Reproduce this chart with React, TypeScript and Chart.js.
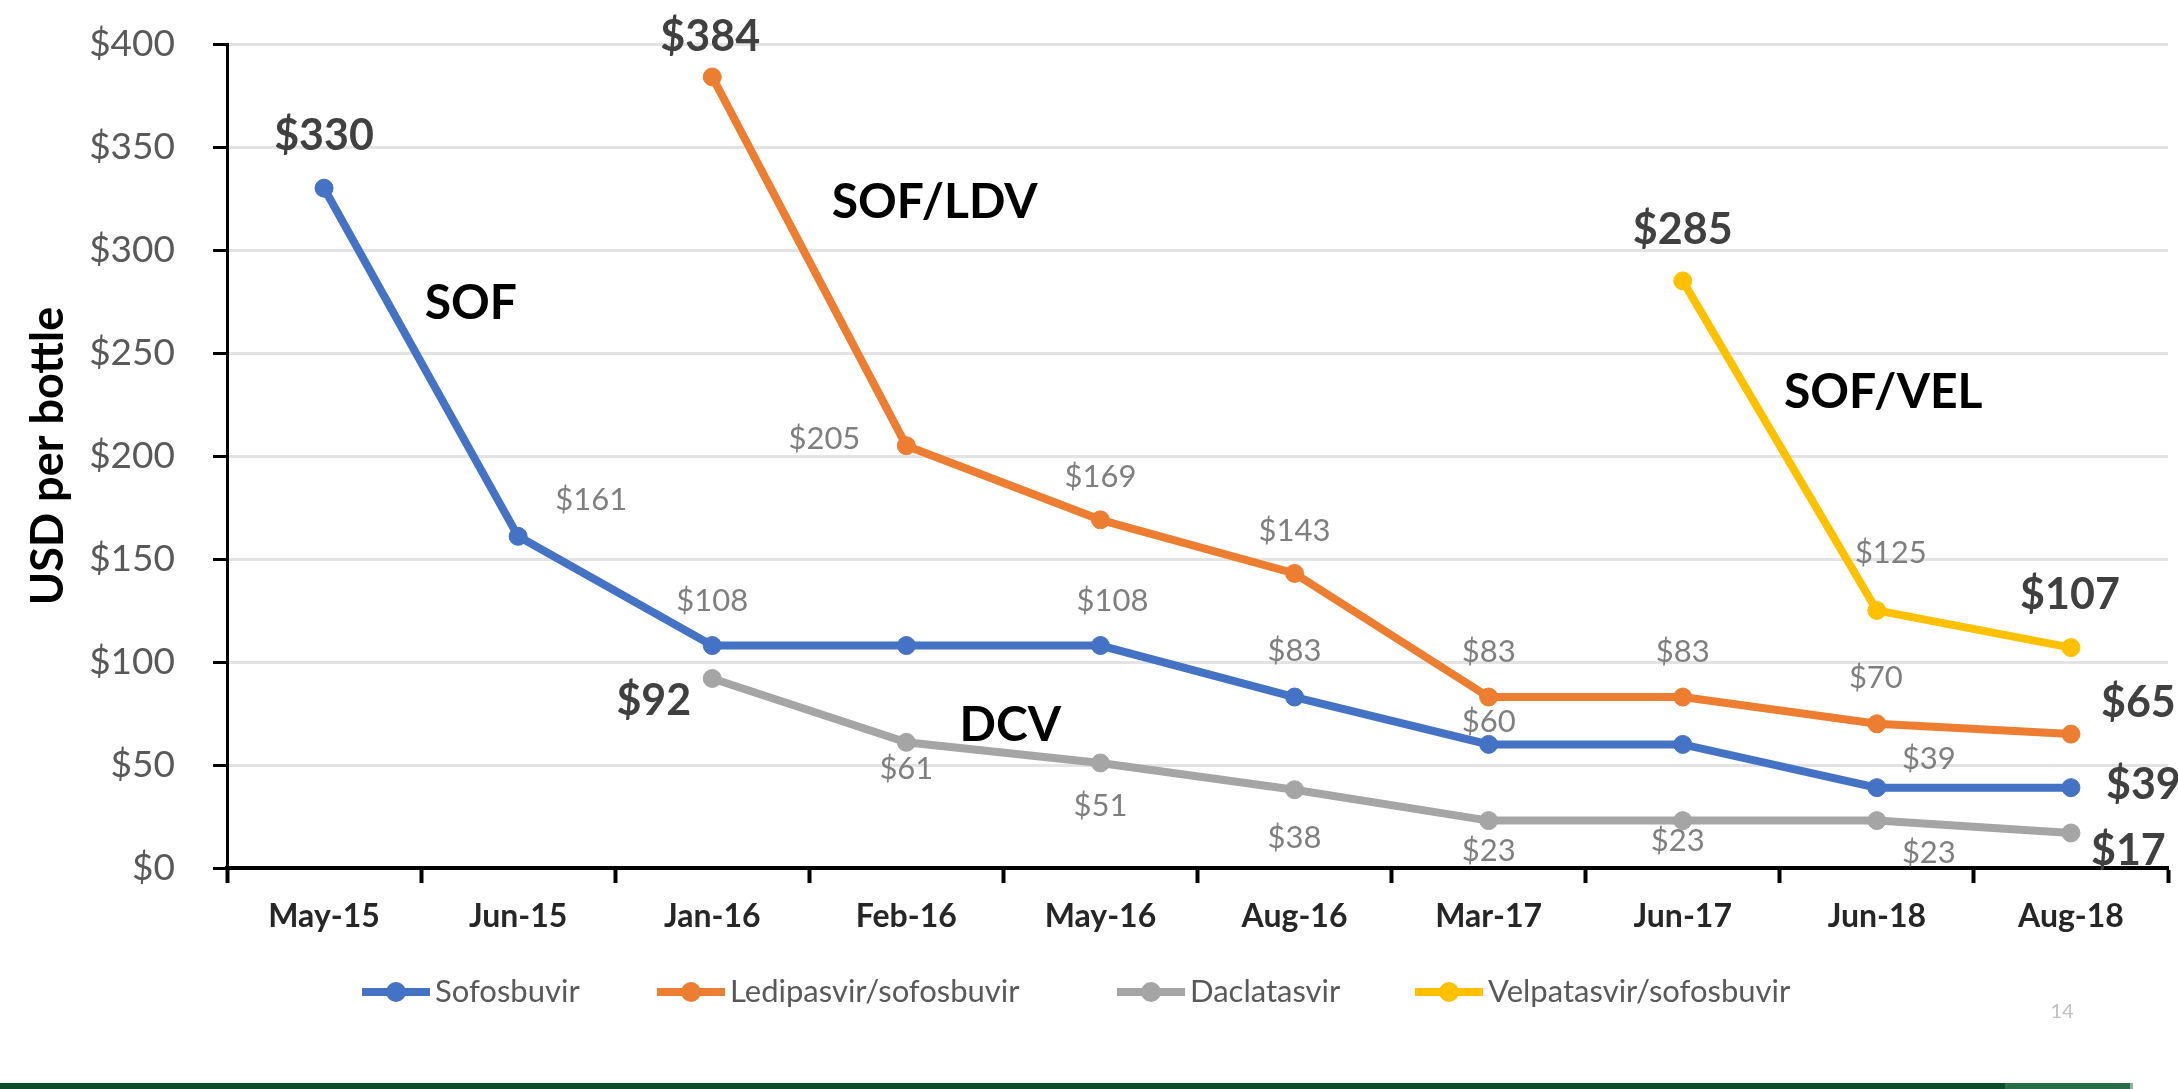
import React, { useEffect, useRef } from 'react';
import { Chart, registerables } from 'chart.js';

Chart.register(...registerables);

const categories = ['May-15', 'Jun-15', 'Jan-16', 'Feb-16', 'May-16', 'Aug-16', 'Mar-17', 'Jun-17', 'Jun-18', 'Aug-18'];
const sofosbuvir = [330, 161, 108, 108, 108, 83, 60, 60, 39, 39];
const ledipasvirSofosbuvir = [null, null, 384, 205, 169, 143, 83, 83, 70, 65];
const daclatasvir = [null, null, 92, 61, 51, 38, 23, 23, 23, 17];
const velpatasvirSofosbuvir = [null, null, null, null, null, null, null, 285, 125, 107];
const yTicks = [0, 50, 100, 150, 200, 250, 300, 350, 400];
const seriesNames = ['Sofosbuvir', 'Ledipasvir/sofosbuvir', 'Daclatasvir', 'Velpatasvir/sofosbuvir'];
const seriesColors = ['#4472C4', '#ED7D31', '#A5A5A5', '#FFC000'];

// label placement per point: [style, dx, dy, align]; null = no label
type Lbl = ['b' | 's', number, number, CanvasTextAlign] | null;
const sofLabels: Lbl[] = [
  ['b', 0, -52, 'center'], ['s', 73, -36, 'center'], ['s', 0, -45, 'center'], null, ['s', 12, -45, 'center'],
  ['s', 0, -46, 'center'], ['s', 0, -22, 'center'], null, ['s', 52, -29, 'center'], ['b', 35, -3, 'left'],
];
const ldvLabels: Lbl[] = [
  null, null, ['b', -2, -40, 'center'], ['s', -46, -7, 'right'], ['s', 0, -43, 'center'],
  ['s', 0, -42, 'center'], ['s', 0, -45, 'center'], ['s', 0, -45, 'center'], ['s', -1, -46, 'center'], ['b', 30, -31, 'left'],
];
const dcvLabels: Lbl[] = [
  null, null, ['b', -21, 23, 'right'], ['s', 0, 27, 'center'], ['s', 0, 43, 'center'],
  ['s', 0, 48, 'center'], ['s', 0, 30, 'center'], ['s', -5, 20, 'center'], ['s', 52, 32, 'center'], ['b', 20, 18, 'left'],
];
const velLabels: Lbl[] = [
  null, null, null, null, null, null, null, ['b', 0, -51, 'center'], ['s', 14, -58, 'center'], ['b', -1, -52, 'center'],
];
const labelSets = [sofLabels, ldvLabels, dcvLabels, velLabels];

// annotations: [text, category position, value]
const annotations: [string, number, number][] = [
  ['SOF', 0.756, 274],
  ['SOF/LDV', 3.146, 323],
  ['SOF/VEL', 8.033, 231],
  ['DCV', 3.536, 69.4],
];

const legendStarts = [362, 657, 1117, 1415];

const FONT = 'Lato';

const labelsPlugin = {
  id: 'pointLabels',
  afterDatasetsDraw(chart: any) {
    const ctx = chart.ctx as CanvasRenderingContext2D;
    ctx.save();
    labelSets.forEach((set, di) => {
      const meta = chart.getDatasetMeta(di);
      set.forEach((l, i) => {
        if (!l) return;
        const v = chart.data.datasets[di].data[i];
        if (v == null) return;
        const el = meta.data[i];
        ctx.font = l[0] === 'b' ? `bold 43px ${FONT}` : `31px ${FONT}`;
        ctx.fillStyle = l[0] === 'b' ? '#404040' : '#7f7f7f';
        ctx.textAlign = l[3];
        ctx.textBaseline = 'middle';
        ctx.fillText('$' + v, el.x + l[1], el.y + l[2]);
      });
    });
    const xs = chart.scales.x;
    const ys = chart.scales.y;
    ctx.font = `bold 48px ${FONT}`;
    ctx.fillStyle = '#000';
    ctx.textAlign = 'center';
    ctx.textBaseline = 'middle';
    annotations.forEach(([t, xi, yv]) => {
      ctx.fillText(t, xs.getPixelForValue(xi), ys.getPixelForValue(yv));
    });
    ctx.restore();
  },
  afterDraw(chart: any) {
    const ctx = chart.ctx as CanvasRenderingContext2D;
    ctx.save();
    const y = 992;
    seriesNames.forEach((name, i) => {
      const s = legendStarts[i];
      ctx.strokeStyle = seriesColors[i];
      ctx.lineWidth = 8;
      ctx.beginPath();
      ctx.moveTo(s, y);
      ctx.lineTo(s + 68, y);
      ctx.stroke();
      ctx.fillStyle = seriesColors[i];
      ctx.beginPath();
      ctx.arc(s + 34, y, 10, 0, Math.PI * 2);
      ctx.fill();
      ctx.font = `31px ${FONT}`;
      ctx.fillStyle = '#595959';
      ctx.textAlign = 'left';
      ctx.textBaseline = 'middle';
      ctx.fillText(name, s + 73, y);
    });
    ctx.font = `20px ${FONT}`;
    ctx.fillStyle = '#bfbfbf';
    ctx.textAlign = 'center';
    ctx.fillText('14', 2062, 1012);
    ctx.restore();
  },
};

export default function App() {
  const ref = useRef<HTMLCanvasElement | null>(null);
  useEffect(() => {
    if (!ref.current) return;
    const data = [sofosbuvir, ledipasvirSofosbuvir, daclatasvir, velpatasvirSofosbuvir];
    const chart = new Chart(ref.current, {
      type: 'line',
      data: {
        labels: categories,
        datasets: data.map((d, i) => ({
          label: seriesNames[i],
          data: d,
          borderColor: seriesColors[i],
          backgroundColor: seriesColors[i],
          pointBackgroundColor: seriesColors[i],
          pointBorderColor: seriesColors[i],
          borderWidth: 8,
          pointRadius: 9,
          pointBorderWidth: 1,
          tension: 0,
          fill: false,
        })),
      },
      options: {
        responsive: false,
        animation: false,
        devicePixelRatio: 1,
        layout: { padding: { top: 44, left: 0, right: 0, bottom: 121 } },
        plugins: { legend: { display: false }, tooltip: { enabled: false } },
        font: { family: FONT },
        scales: {
          x: {
            type: 'category',
            offset: true,
            grid: { offset: true, drawOnChartArea: false, drawTicks: true, tickLength: 15, tickWidth: 4, tickColor: '#000' },
            border: { color: '#000', width: 4 },
            ticks: { font: { family: FONT, size: 32, weight: 'bold' }, color: '#262626', padding: 14, maxRotation: 0, autoSkip: false },
            afterFit: (s: any) => { s.height = 100; s.paddingLeft = 0; s.paddingRight = 0; },
          },
          y: {
            min: 0,
            max: 400,
            afterBuildTicks: (s: any) => { s.ticks = yTicks.map((v) => ({ value: v })); },
            ticks: { callback: (v: any) => '$' + v, font: { family: FONT, size: 37 }, color: '#595959', padding: 38 },
            grid: { color: '#e3e3e3', lineWidth: 3, tickColor: '#000', tickLength: 14, tickWidth: 3 },
            border: { color: '#000', width: 3 },
            title: { display: true, text: 'USD per bottle', font: { family: FONT, size: 45, weight: 'bold' }, color: '#000', padding: { top: 21, bottom: 0 } },
            afterFit: (s: any) => { s.width = 227; s.paddingTop = 0; s.paddingBottom = 0; },
          },
        },
      } as any,
      plugins: [labelsPlugin],
    });
    return () => chart.destroy();
  }, []);

  return (
    <div style={{ position: 'fixed', left: 0, top: 0, width: 2178, height: 1089, overflow: 'hidden', background: '#fff' }}>
      <canvas ref={ref} width={2178} height={1089} style={{ width: 2178, height: 1089, display: 'block' }} />
      <div style={{ position: 'absolute', left: 0, top: 1083, width: 2005, height: 6, background: '#0f4c2b' }} />
      <div style={{ position: 'absolute', left: 2005, top: 1083, width: 125, height: 6, background: '#2c6b47' }} />
      <div style={{ position: 'absolute', left: 2130, top: 1083, width: 3, height: 6, background: '#8fb39f' }} />
    </div>
  );
}
